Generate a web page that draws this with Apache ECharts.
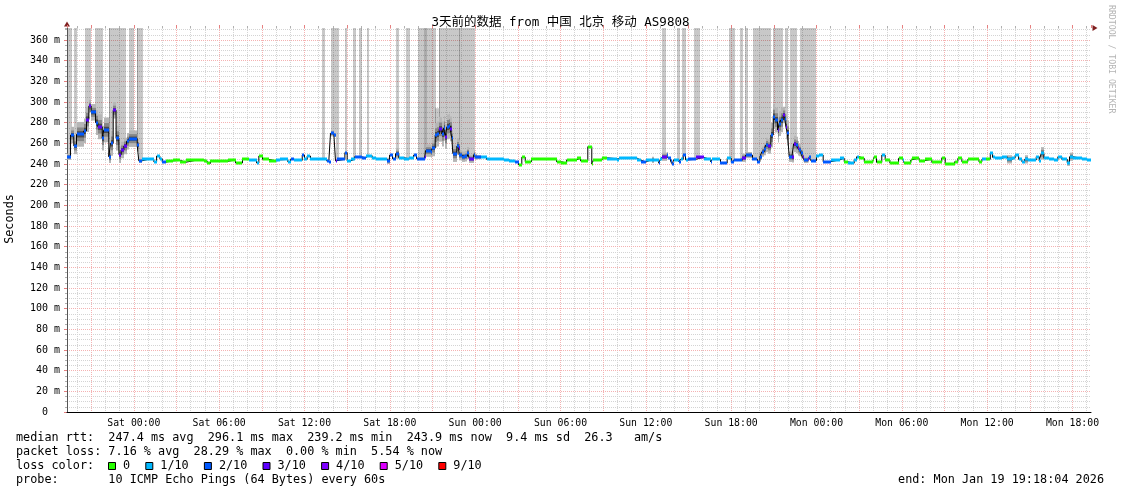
<!DOCTYPE html>
<html><head><meta charset="utf-8">
<script src="https://cdn.jsdelivr.net/npm/echarts@6/dist/echarts.min.js"></script>
<style>html,body{margin:0;padding:0;background:#fff}#c{width:1121px;height:494px}</style>
</head><body><div id="c"></div>
<script>
// ================= DATA =================
const chartTitle = '3天前的数据 from 中国 北京 移动 AS9808';
const yAxisName = 'Seconds';
const xTickLabels = ['Sat 00:00','Sat 06:00','Sat 12:00','Sat 18:00','Sun 00:00','Sun 06:00','Sun 12:00','Sun 18:00','Mon 00:00','Mon 06:00','Mon 12:00','Mon 18:00'];
// time in hours relative to Sat 00:00; the graph covers Fri 19:18:04 .. Mon 19:18:04
const rangeStart = -4.699;
const rangeEnd = 67.301;
const yMaxMs = 371.6;

// median rtt step segments: start time (h), median (ms), loss (tenths), smoke spread (ms)
const segStart = [
-4.70,-4.45,-4.22,-4.03,-3.52,-3.33,-3.16,-3.00,-2.69,-2.53,
-2.22,-2.11,-1.76,-1.64,-1.45,-1.25,-1.05,-0.89,-0.70,-0.51,
-0.35,0.24,0.35,0.54,1.03,1.41,1.60,1.83,2.00,2.23,
2.72,3.28,3.64,4.34,4.90,5.16,5.39,5.96,6.59,7.15,
7.64,8.07,8.63,8.79,9.05,9.47,10.03,10.31,10.83,11.02,
11.23,11.84,12.00,12.19,12.42,13.13,13.55,13.71,13.83,14.06,
14.18,14.32,14.84,15.00,15.24,15.52,16.01,16.29,16.50,16.76,
17.00,17.77,17.98,18.19,18.40,18.63,19.03,19.32,19.67,19.88,
20.44,20.51,20.91,21.00,21.19,21.31,21.47,21.66,21.78,21.90,
22.01,22.13,22.25,22.36,22.43,22.71,22.83,22.88,23.06,23.30,
23.46,23.60,23.89,24.01,24.10,24.38,24.80,26.00,26.35,26.82,
27.05,27.28,27.52,27.96,29.30,29.72,30.07,30.43,31.13,31.41,
31.92,32.20,32.32,32.94,33.29,33.99,34.08,34.78,35.40,35.63,
35.98,36.40,36.54,36.91,37.03,37.15,37.46,37.55,37.74,37.86,
37.95,38.32,38.44,38.63,38.79,39.00,39.50,40.06,40.55,40.67,
41.25,41.72,42.01,42.17,42.78,43.01,43.50,43.85,44.02,44.16,
44.33,44.44,44.56,44.79,44.96,45.10,45.26,45.38,45.49,45.66,
45.77,45.85,45.96,46.08,46.27,46.39,46.55,46.67,46.79,46.90,
47.02,47.14,47.37,47.49,47.60,48.00,48.19,48.47,48.99,49.62,
49.95,50.18,50.65,50.82,51.01,51.36,51.94,52.06,52.22,52.59,
52.83,53.16,53.77,54.05,54.17,54.63,54.75,55.22,55.60,56.11,
56.30,56.81,57.05,57.71,57.94,58.22,58.64,59.42,59.63,59.94,
60.22,60.38,60.52,61.03,61.41,61.74,61.97,62.21,62.44,62.63,
62.86,63.45,63.66,63.80,63.99,64.32,64.69,64.97,65.25,65.63,
65.79,66.03,66.66,67.04];
const medianMs = [
247,268,257.5,268.7,272,283,296.1,290,280,276,
265,273,247,260,292,265,249,253.5,257.4,262,
264.5,258,243,244.5,244.5,242,247.7,245,241.7,243,
243.5,241.7,243.5,244,243,240.6,243,242.5,244,241,
244.5,243.5,241,247.7,244.5,243,244,244.5,242,244.5,
243.5,248.6,244.5,247.7,244.5,245,243,242,269.7,268,
243,244.5,251,243,244.5,247,246,247.7,248,245.5,
244.5,243,248.6,245,250,246,245,246,248.6,245,
246.5,252.9,252,255.5,268,269,273.6,269,274.5,266.5,
276,276.6,274,265,250,257,255,248.6,247,247.5,
250.5,245,249,247,246.6,246.6,244.5,243.9,242.6,241.6,
239.2,246.6,242.2,244.5,245,242.2,240.8,244,245.5,243,
256.8,240,244,246,245,243.9,246,245.5,243.9,242,
243.9,244,243.9,240.8,244.5,247,248.6,245.5,242.5,240,
244,242,244.5,248.6,244,244.5,246.4,244.5,242.2,244.5,
240.8,245.5,241.5,243.5,246,248.6,244.5,242.2,247,251.9,
254.5,258.4,257,268,285.8,282.5,272.9,279,282.6,287.4,
284,276,270,247,246.4,259.4,258.4,255.2,253.5,250.3,
246.4,243.9,244.5,246.4,243.2,248,248.6,242.2,243.9,245.5,
242.2,240.8,243.9,247,245.5,242.2,243.9,247,241.6,248.6,
243.9,240.8,245.5,243.9,240.8,243.9,245.5,243.2,244.5,241.5,
242.2,246,240,242.2,245.5,242.2,244.5,242.2,244.5,244.5,
250.3,246.4,245.5,247,244.5,246,248.6,244.5,242.2,244.5,
243.9,247,243.2,250.3,245.5,244.5,243.9,247,244.5,241.2,
247,245.5,244.5,243.9];
const lossTenths = [
2,2,2,2,2,3,3,2,2,3,
2,2,2,2,3,2,3,3,3,2,
2,2,2,1,1,1,1,1,2,0,
0,0,0,0,0,0,0,0,0,0,
0,1,1,0,0,0,1,1,1,2,
1,2,1,1,1,1,2,2,2,2,
3,2,2,1,1,2,2,1,1,1,
1,2,2,2,2,1,1,1,2,2,
3,2,2,2,2,2,3,2,2,3,
2,2,3,2,2,2,3,2,2,2,
2,3,2,2,2,1,1,1,1,2,
0,0,0,0,0,0,0,0,0,0,
0,0,0,0,1,1,1,1,1,2,
1,1,1,2,1,3,2,2,2,2,
1,2,1,2,1,2,3,1,2,1,
2,1,2,2,3,2,2,2,2,2,
2,2,3,2,2,2,3,2,2,3,
2,3,2,2,3,3,2,3,2,2,
3,2,3,2,2,1,1,2,1,1,
0,1,1,1,0,0,0,0,0,1,
0,0,0,1,0,0,0,0,0,0,
0,0,0,0,0,0,0,0,1,0,
1,1,1,1,1,1,1,1,1,1,
1,1,1,1,1,1,1,1,1,1,
1,1,1,1];
const smokeMs = [
3,8,8,12,12,12,6,8,12,12,
12,12,6,12,8,12,8,8,8,8,
8,6,2,0,0,0,0,0,0,0,
0,0,0,0,0,0,0,0,0,0,
0,0,0,0,0,0,0,0,0,0,
0,0,0,0,0,0,0,0,3,2,
0,0,0,0,0,0,0,0,0,0,
0,3,0,0,5,0,0,0,0,0,
0,6,6,8,12,12,12,12,12,12,
12,12,12,8,8,8,8,5,5,5,
6,4,4,3,2,0,0,0,0,0,
0,0,0,0,0,0,0,0,0,0,
0,0,0,0,0,0,0,0,0,0,
0,3,0,0,0,4,3,0,0,0,
0,0,0,0,0,0,0,0,0,0,
0,0,0,0,4,3,0,0,3,5,
6,7,7,12,12,12,12,12,12,8,
8,12,12,5,5,8,8,7,6,5,
4,3,3,2,0,0,0,0,0,0,
0,0,0,0,0,0,0,0,0,0,
0,0,0,0,0,0,0,0,0,0,
0,0,0,0,0,0,0,0,0,0,
0,0,0,0,4,0,0,0,0,4,
0,0,0,6,0,0,0,0,0,3,
4,0,0,0];

// tall smoke (pings far off the chart): start / end (h), top (ms, null = off chart), darker shade flag
const barStart = [-4.70,-4.22,-3.40,-2.76,-1.78,-0.35,0.19,13.20,13.83,14.84,15.38,15.80,16.41,18.40,19.17,20.00,20.37,20.58,21.21,21.45,37.15,38.21,38.56,39.42,41.84,42.59,42.96,43.54,44.96,45.82,46.17,46.81];
const barEnd   = [-4.43,-4.03,-3.00,-2.20,-0.58,-0.02,0.61,13.43,14.40,15.00,15.59,16.01,16.57,18.63,19.41,20.37,20.58,21.21,21.45,23.99,37.39,38.37,38.79,39.78,42.19,42.80,43.19,44.78,45.61,46.00,46.60,48.00];
const barTop   = [null,null,null,null,null,null,null,null,null,null,null,null,null,null,null,null,null,null,294,null,null,null,null,null,null,null,null,null,null,null,null,null];
const barDark  = [0,0,0,0,0,0,0,0,0,0,0,0,0,0,0,0,1,0,0,0,0,0,0,0,0,0,0,0,0,0,0,0];

const lossColors = ['#26ff00','#00b8ff','#0059ff','#5e00ff','#7e00ff','#dd00ff','#ff0000'];
const lossLabels = ['0','1/10','2/10','3/10','4/10','5/10','9/10'];
const lossTenthsKeys = [0,1,2,3,4,5,9];

const statLines = [
  'median rtt:  247.4 ms avg  296.1 ms max  239.2 ms min  243.9 ms now  9.4 ms sd  26.3   am/s',
  'packet loss: 7.16 % avg  28.29 % max  0.00 % min  5.54 % now'
];
const lossLegendTitle = 'loss color:';
const probeLine = 'probe:       10 ICMP Echo Pings (64 Bytes) every 60s';
const endLine = 'end: Mon Jan 19 19:18:04 2026';
const watermark = 'RRDTOOL / TOBI OETIKER';

// ================= BUILD =================
const MONO = "'DejaVu Sans Mono', monospace";
const RED_GRID = '#f4b2b2';
const GRAY_GRID = '#d4d4d4';
const ARROW = '#7f1f1f';

const segEnd = segStart.map((s, i) => i + 1 < segStart.length ? segStart[i + 1] : rangeEnd);
const lineData = segStart.map((s, i) => [s, medianMs[i]]);
lineData.push([rangeEnd, medianMs[medianMs.length - 1]]);
const lossData = segStart.map((s, i) => [s, segEnd[i], medianMs[i], lossTenthsKeys.indexOf(lossTenths[i])]);
const smokeData = [];
segStart.forEach((s, i) => { if (smokeMs[i] > 0) smokeData.push([s, segEnd[i], medianMs[i], smokeMs[i]]); });
const barPieces = [];
barStart.forEach((bs, b) => {
  const be = barEnd[b];
  for (let i = 0; i < segStart.length; i++) {
    const a = Math.max(bs, segStart[i]), e = Math.min(be, segEnd[i]);
    if (e > a) barPieces.push([a, e, medianMs[i], barTop[b] == null ? yMaxMs : barTop[b], barDark[b]]);
  }
});

function rectShape(api, x0, x1, y0, y1) {
  const a = api.coord([x0, y1]);
  const b = api.coord([x1, y0]);
  const xl = Math.round(a[0]), xr = Math.round(b[0]);
  return { x: xl, y: a[1], width: Math.max(1, xr - xl), height: b[1] - a[1] };
}

const xBase = { type: 'value', min: rangeStart, max: rangeEnd, gridIndex: 0 };
const hiddenLabel = { show: false };

const graphics = [];
statLines.forEach((t, i) => graphics.push({ type: 'text', x: 16, y: 438 + i * 14, style: { text: t, font: '11.8px ' + MONO, fill: '#000', textVerticalAlign: 'middle' } }));
graphics.push({ type: 'text', x: 16, y: 466, style: { text: lossLegendTitle, font: '11.8px ' + MONO, fill: '#000', textVerticalAlign: 'middle' } });
let lx = 108;
lossLabels.forEach((lab, i) => {
  graphics.push({ type: 'rect', shape: { x: lx + 0.5, y: 462.5, width: 7, height: 7 }, style: { fill: lossColors[i], stroke: '#000', lineWidth: 1 } });
  graphics.push({ type: 'text', x: lx + 15, y: 466, style: { text: lab, font: '11.8px ' + MONO, fill: '#000', textVerticalAlign: 'middle' } });
  lx += 15 + lab.length * 7.1 + 15.2;
});
graphics.push({ type: 'text', x: 16, y: 480, style: { text: probeLine, font: '11.8px ' + MONO, fill: '#000', textVerticalAlign: 'middle' } });
graphics.push({ type: 'text', x: 1104, y: 480, style: { text: endLine, font: '11.8px ' + MONO, fill: '#000', textAlign: 'right', textVerticalAlign: 'middle' } });
graphics.push({ type: 'text', x: 1111, y: 5, rotation: -Math.PI / 2, style: { text: watermark, font: '8.2px ' + MONO, fill: '#b4b4b4', textAlign: 'left', textVerticalAlign: 'middle' } });
graphics.push({ type: 'text', x: 10, y: 219, rotation: Math.PI / 2, style: { text: yAxisName, font: '11.8px ' + MONO, fill: '#000', textAlign: 'center', textVerticalAlign: 'middle' } });

const option = {
  animation: false,
  backgroundColor: '#ffffff',
  title: { text: chartTitle, left: 'center', top: 11, textStyle: { fontSize: 12.5, fontWeight: 'normal', color: '#000', fontFamily: "'DejaVu Sans Mono', 'Noto Sans CJK SC', monospace" } },
  grid: { left: 67, top: 28, width: 1024, height: 384, containLabel: false },
  xAxis: [
    Object.assign({}, xBase, {
      minInterval: 6, maxInterval: 6, z: 3,
      axisLine: { show: true, onZero: false, lineStyle: { color: '#000', width: 1 } },
      axisTick: { show: false },
      splitLine: { show: false },
      axisLabel: { show: true, showMinLabel: false, showMaxLabel: false, margin: 6, color: '#000', fontSize: 9.8, fontFamily: MONO,
        formatter: v => { const k = Math.round(v / 6); return (Math.abs(v - k * 6) < 1e-6 && xTickLabels[k]) ? xTickLabels[k] : ''; } }
    }),
    Object.assign({}, xBase, {
      minInterval: 3, maxInterval: 3, z: 1,
      axisLine: { show: false, onZero: false },
      axisTick: { show: true, length: 3, lineStyle: { color: '#e58080' } },
      axisLabel: hiddenLabel,
      splitLine: { show: true, showMinLine: false, showMaxLine: false, lineStyle: { color: RED_GRID, width: 1, type: [1, 1] } }
    }),
    Object.assign({}, xBase, {
      minInterval: 1, maxInterval: 1, z: 0,
      axisLine: { show: true, onZero: false, symbol: ['none', 'triangle'], symbolSize: [6, 5], symbolOffset: [0, 4], lineStyle: { color: ARROW, width: 0 } },
      axisTick: { show: true, length: 2, lineStyle: { color: '#b0b0b0' } },
      axisLabel: hiddenLabel,
      splitLine: { show: true, showMinLine: false, showMaxLine: false, lineStyle: { color: GRAY_GRID, width: 1, type: [1, 1] } }
    })
  ],
  yAxis: [
    { type: 'value', min: 0, max: yMaxMs, interval: 20, z: 1, position: 'left',
      axisLine: { show: true, onZero: false, lineStyle: { color: '#555555', width: 1 } },
      axisTick: { show: true, length: 3, lineStyle: { color: '#e58080' } },
      axisLabel: { show: true, showMaxLabel: false, margin: 7, color: '#000', fontSize: 10, fontFamily: MONO,
        formatter: v => (Math.abs(v % 20) < 1e-6 ? (v === 0 ? '0  ' : v + ' m') : '') },
      splitLine: { show: true, showMinLine: false, showMaxLine: false, lineStyle: { color: RED_GRID, width: 1, type: [1, 1] } }
    },
    { type: 'value', min: 0, max: yMaxMs, interval: 5, z: 0, position: 'left', offset: 0,
      axisLine: { show: true, onZero: false, symbol: ['none', 'triangle'], symbolSize: [6, 5], symbolOffset: [0, 4], lineStyle: { color: ARROW, width: 0 } },
      axisTick: { show: true, length: 2, lineStyle: { color: '#b0b0b0' } },
      axisLabel: hiddenLabel,
      splitLine: { show: true, showMinLine: false, showMaxLine: false, lineStyle: { color: GRAY_GRID, width: 1, type: [1, 1] } }
    }
  ],
  graphic: graphics,
  series: [
    { type: 'custom', name: 'tall smoke', xAxisIndex: 0, yAxisIndex: 0, z: 1, silent: true, clip: true,
      data: barPieces, encode: { x: [0, 1], y: [2, 3] },
      renderItem: (params, api) => ({ type: 'rect', shape: rectShape(api, api.value(0), api.value(1), api.value(2), api.value(3)),
        style: { fill: api.value(4) ? 'rgba(0,0,0,0.33)' : 'rgba(0,0,0,0.215)' } })
    },
    { type: 'custom', name: 'smoke', xAxisIndex: 0, yAxisIndex: 0, z: 2, silent: true, clip: true,
      data: smokeData, encode: { x: [0, 1], y: 2 },
      renderItem: (params, api) => {
        const x0 = api.value(0), x1 = api.value(1), m = api.value(2), s = api.value(3);
        return { type: 'group', children: [
          { type: 'rect', shape: rectShape(api, x0, x1, m - s, m + s), style: { fill: '#b6b6b6' } },
          { type: 'rect', shape: rectShape(api, x0, x1, m - s * 0.55, m + s * 0.55), style: { fill: '#878787' } },
          { type: 'rect', shape: rectShape(api, x0, x1, m - s * 0.25, m + s * 0.25), style: { fill: '#4a4a4a' } }
        ] };
      }
    },
    { type: 'line', name: 'median', xAxisIndex: 0, yAxisIndex: 0, z: 3, data: lineData, step: 'end', symbol: 'none', clip: true,
      lineStyle: { color: '#000000', width: 1 }, silent: true },
    { type: 'custom', name: 'loss color', xAxisIndex: 0, yAxisIndex: 0, z: 4, silent: true, clip: true,
      data: lossData, encode: { x: [0, 1], y: 2 },
      renderItem: (params, api) => {
        const a = api.coord([api.value(0), api.value(2)]);
        const b = api.coord([api.value(1), api.value(2)]);
        const xl = Math.round(a[0]), xr = Math.round(b[0]);
        return { type: 'rect', shape: { x: xl, y: Math.round(a[1]) - 1.5, width: Math.max(1, xr - xl), height: 3 },
          style: { fill: lossColors[api.value(3)] } };
      }
    }
  ]
};
const chart = echarts.init(document.getElementById('c'), null, { renderer: 'canvas', width: 1121, height: 494 });
chart.setOption(option);
</script>
</body></html>
